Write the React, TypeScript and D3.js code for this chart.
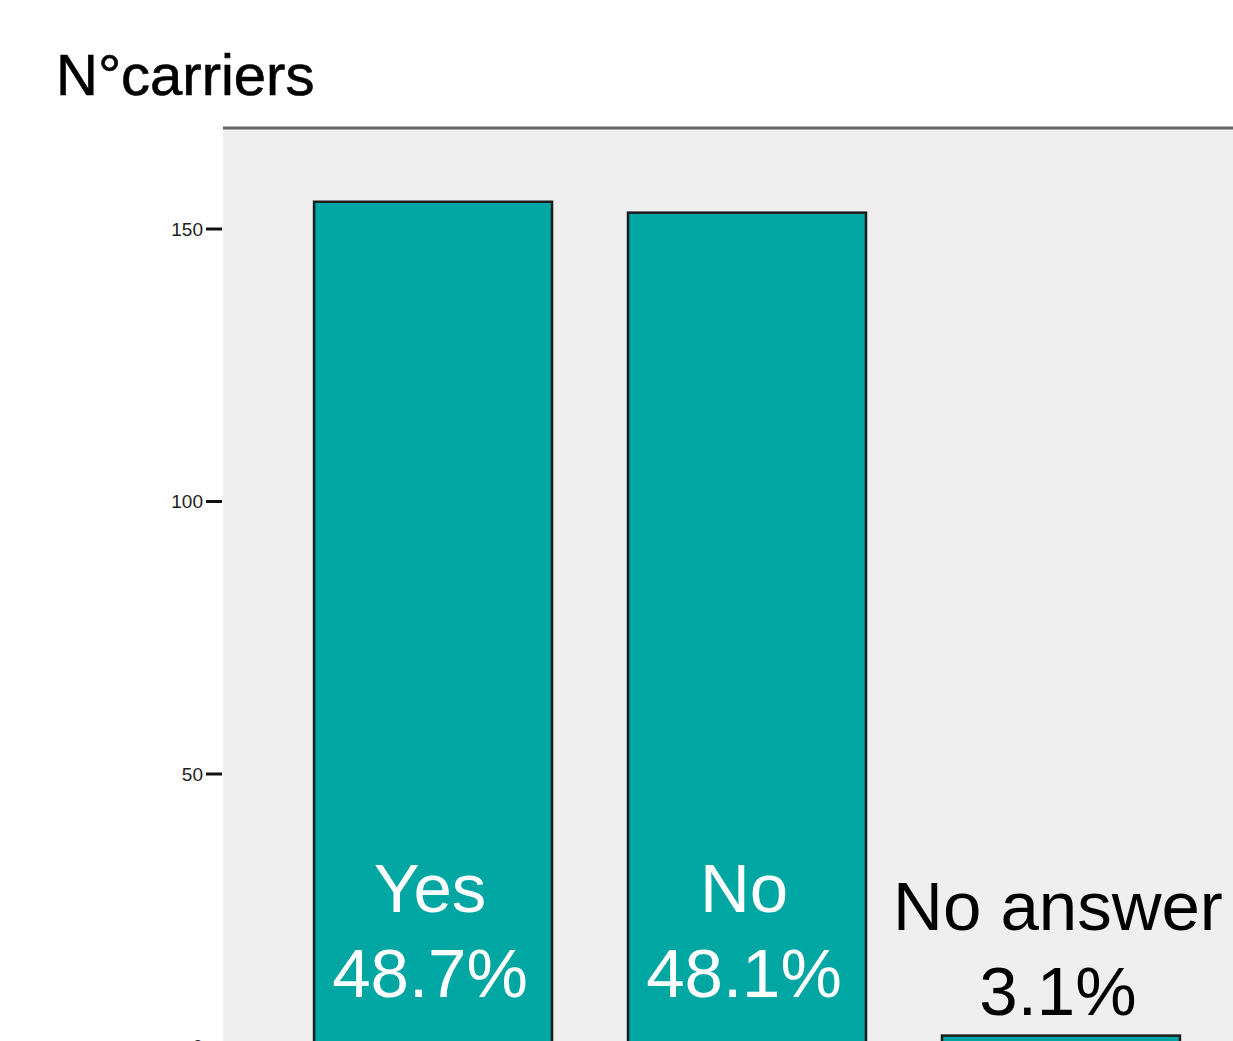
import React from "react";
import * as d3 from "d3";

const categories: string[] = ["Yes", "No", "No answer"];
const counts: number[] = [155, 153, 2];
const percentLabels: string[] = ["48.7%", "48.1%", "3.1%"];
const yTickValues: number[] = [0, 50, 100, 150];
const titleText = "N°carriers";

const W = 1233;
const H = 1041;
const FONT = "'Liberation Sans', Arial, Helvetica, sans-serif";

export default function App() {
  const plotLeft = 223;
  const plotTop = 128;
  const x = d3
    .scaleBand<string>()
    .domain(categories)
    .range([plotLeft, 1271])
    .paddingInner(0.242)
    .paddingOuter(0.29);
  const y = d3.scaleLinear().domain([0, 150]).range([1046.5, 229]);

  const lineGap = 85;
  return (
    <svg
      width={W}
      height={H}
      style={{ position: "absolute", left: 0, top: 0, background: "#ffffff" }}
    >
      <rect x={0} y={0} width={W} height={H} fill="#ffffff" />
      <text x={56} y={95} fontFamily={FONT} fontSize={58} fill="#000" stroke="#000" strokeWidth={0.6}>
        {titleText}
      </text>
      <rect x={plotLeft} y={plotTop} width={W - plotLeft} height={H - plotTop + 20} fill="#efefef" />
      <line x1={plotLeft} x2={W} y1={plotTop} y2={plotTop} stroke="#666" strokeWidth={3} />
      {yTickValues.map((t) => (
        <g key={t}>
          <line x1={206} x2={222} y1={y(t)} y2={y(t)} stroke="#111" strokeWidth={3} />
          <text
            x={203}
            y={y(t)}
            dy="0.36em"
            textAnchor="end"
            fontFamily={FONT}
            fontSize={19}
            fill="#222"
          >
            {t}
          </text>
        </g>
      ))}
      {categories.map((c, i) => {
        const bx = x(c)!;
        const bw = x.bandwidth();
        const top = y(counts[i]);
        const base = y(0);
        const cx = bx + bw / 2;
        const inside = base - top > 200;
        const secondBaseline = inside ? base - 49.5 : top - 21;
        const color = inside ? "#ffffff" : "#000000";
        return (
          <g key={c}>
            <rect
              x={bx}
              y={top}
              width={bw}
              height={base - top}
              fill="#00a6a1"
              stroke="#1c1c1c"
              strokeWidth={2.5}
            />
            <text x={cx - 3} y={secondBaseline - lineGap} textAnchor="middle" fontFamily={FONT} fontSize={69} fill={color}>
              {c}
            </text>
            <text x={cx - 3} y={secondBaseline} textAnchor="middle" fontFamily={FONT} fontSize={69} fill={color}>
              {percentLabels[i]}
            </text>
          </g>
        );
      })}
    </svg>
  );
}
